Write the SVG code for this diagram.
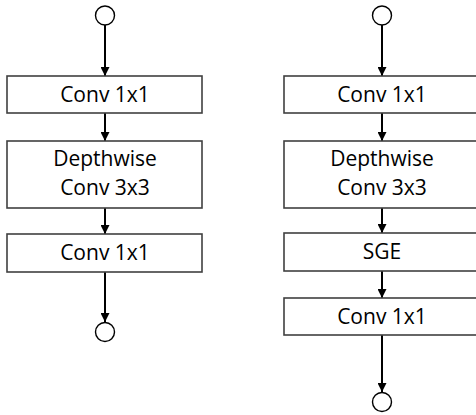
<svg xmlns="http://www.w3.org/2000/svg" width="476" height="415" viewBox="0 0 476 415">
  <style>
    .box { fill: #ffffff; stroke: #404040; stroke-width: 1.6; }
    .port { fill: #ffffff; stroke: #000000; stroke-width: 1.4; }
    .label { font-family: "Open Sans", "Liberation Sans", sans-serif; font-size: 21px; fill: #000000; text-anchor: middle; }
    .edge { stroke: #000000; stroke-width: 2; fill: none; marker-end: url(#arrow); }
  </style>
  <defs>
    <marker id="arrow" viewBox="0 0 10 10" refX="10" refY="5" markerWidth="4.5" markerHeight="4.5" orient="auto" markerUnits="strokeWidth">
      <path d="M0,0 L10,5 L0,10 z" fill="#000000"/>
    </marker>
  </defs>
  <rect width="476" height="415" fill="#ffffff"/>

  <!-- connectors -->
  <g id="connectors">
    <!-- left block -->
    <line class="edge" x1="105" y1="25" x2="105" y2="76"/>
    <line class="edge" x1="105" y1="113" x2="105" y2="141"/>
    <line class="edge" x1="105" y1="208" x2="105" y2="234"/>
    <line class="edge" x1="105" y1="272" x2="105" y2="322"/>
    <!-- right block -->
    <line class="edge" x1="382" y1="25" x2="382" y2="76"/>
    <line class="edge" x1="382" y1="113" x2="382" y2="141"/>
    <line class="edge" x1="382" y1="208" x2="382" y2="233"/>
    <line class="edge" x1="382" y1="271" x2="382" y2="298"/>
    <line class="edge" x1="382" y1="335" x2="382" y2="392"/>
  </g>

  <!-- left block: inverted residual -->
  <g id="l-in"><circle class="port" cx="105" cy="15.5" r="9.5"/></g>
  <g id="l-conv1">
    <rect class="box" x="7" y="76" width="195" height="37"/>
    <text class="label" x="105" y="102">Conv 1x1</text>
  </g>
  <g id="l-dw">
    <rect class="box" x="7" y="141" width="195" height="67"/>
    <text class="label" x="105" y="166">Depthwise</text>
    <text class="label" x="105" y="195">Conv 3x3</text>
  </g>
  <g id="l-conv2">
    <rect class="box" x="7" y="234" width="195" height="38"/>
    <text class="label" x="105" y="260">Conv 1x1</text>
  </g>
  <g id="l-out"><circle class="port" cx="105" cy="332" r="9.5"/></g>

  <!-- right block: with SGE -->
  <g id="r-in"><circle class="port" cx="382" cy="15.5" r="9.5"/></g>
  <g id="r-conv1">
    <rect class="box" x="284" y="76" width="195" height="37"/>
    <text class="label" x="382" y="102">Conv 1x1</text>
  </g>
  <g id="r-dw">
    <rect class="box" x="284" y="141" width="195" height="67"/>
    <text class="label" x="382" y="166">Depthwise</text>
    <text class="label" x="382" y="195">Conv 3x3</text>
  </g>
  <g id="r-sge">
    <rect class="box" x="284" y="233" width="195" height="38"/>
    <text class="label" x="382" y="259">SGE</text>
  </g>
  <g id="r-conv2">
    <rect class="box" x="284" y="298" width="195" height="37"/>
    <text class="label" x="382" y="324">Conv 1x1</text>
  </g>
  <g id="r-out"><circle class="port" cx="382" cy="402" r="9.5"/></g>
</svg>
